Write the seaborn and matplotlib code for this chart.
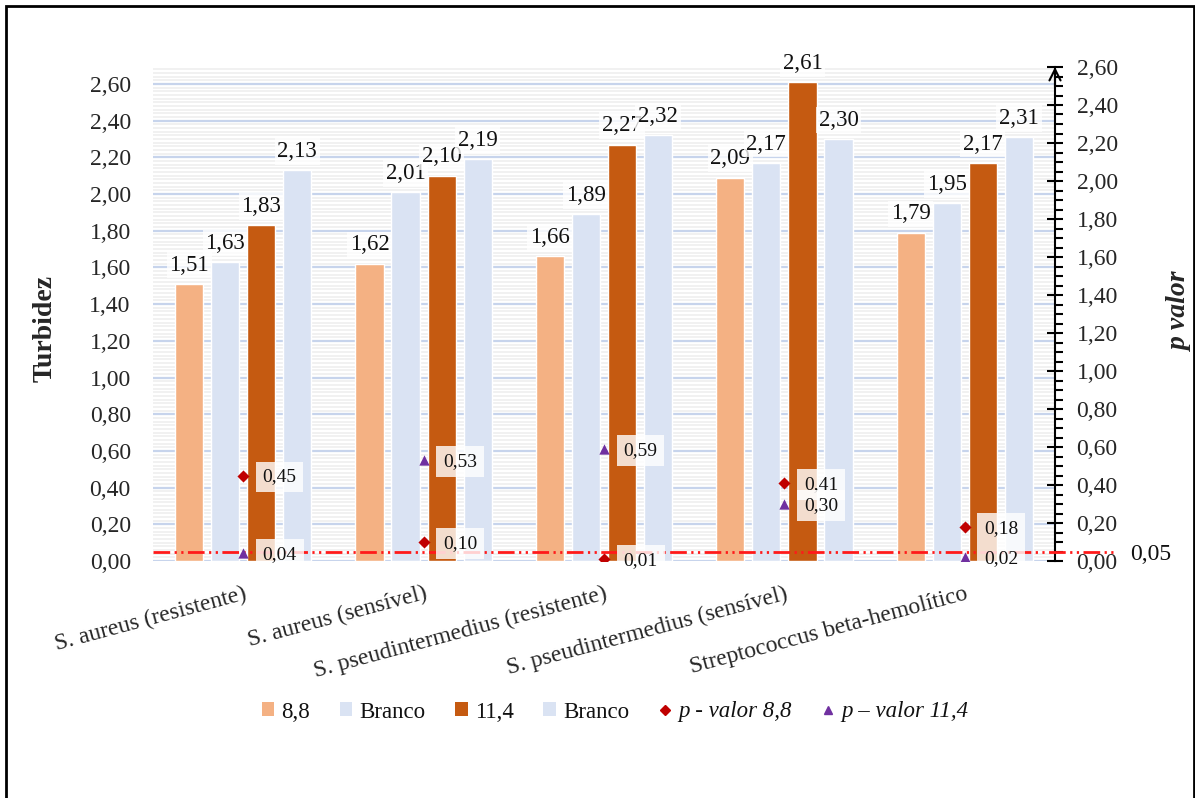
import numpy as np
import pandas as pd
import matplotlib
matplotlib.use("Agg")
import matplotlib.pyplot as plt
from matplotlib.patches import Patch, Rectangle
from matplotlib.lines import Line2D
from matplotlib.ticker import MultipleLocator, FixedLocator
import seaborn as sns

# ---- data ----
grupos = [
    "S. aureus (resistente)",
    "S. aureus (sensível)",
    "S. pseudintermedius (resistente)",
    "S. pseudintermedius (sensível)",
    "Streptococcus beta-hemolítico",
]
turb_88 = [1.51, 1.62, 1.66, 2.09, 1.79]
branco_88 = [1.63, 2.01, 1.89, 2.17, 1.95]
turb_114 = [1.83, 2.10, 2.27, 2.61, 2.17]
branco_114 = [2.13, 2.19, 2.32, 2.30, 2.31]
p_88 = [0.45, 0.10, 0.01, 0.41, 0.18]
p_114 = [0.04, 0.53, 0.59, 0.30, 0.02]
p_limite = 0.05

series_keys = ["8,8", "Branco A", "11,4", "Branco B"]
series_labels = ["8,8", "Branco", "11,4", "Branco"]
series_vals = [turb_88, branco_88, turb_114, branco_114]
series_colors = ["#F4B183", "#DAE3F3", "#C55A11", "#DAE3F3"]
p_labels = ["p - valor 8,8", "p \u2013 valor 11,4"]
yticks = [0.0, 0.2, 0.4, 0.6, 0.8, 1.0, 1.2, 1.4, 1.6, 1.8, 2.0, 2.2, 2.4, 2.6]

df = pd.DataFrame(
    [(g, k, v) for k, vals in zip(series_keys, series_vals) for g, v in zip(grupos, vals)],
    columns=["grupo", "serie", "turbidez"],
)


def virgula(v, casas=2):
    return f"{v:.{casas}f}".replace(".", ",")


# ---- style ----
sns.set_style("white")
plt.rcParams["font.family"] = ["Liberation Serif", "DejaVu Serif"]
plt.rcParams["text.color"] = "#111111"

W, H = 1195, 798
fig = plt.figure(figsize=(W / 100, H / 100), dpi=100)
x0, x1, y_bot, y_top = 153, 1055, 561, 67
ax = fig.add_axes([x0 / W, 1 - y_bot / H, (x1 - x0) / W, (y_bot - y_top) / H])

sns.barplot(
    data=df, x="grupo", y="turbidez", hue="serie", hue_order=series_keys,
    order=grupos, palette=series_colors, saturation=1, width=0.8, gap=0.22,
    legend=False, ax=ax, zorder=2,
)

# left axis: turbidity
ax.set_xlim(-0.5, len(grupos) - 0.5)
ax.set_ylim(0, 2.6 * (y_bot - y_top) / (y_bot - 84))
ax.yaxis.set_major_locator(FixedLocator(yticks))
ax.set_yticklabels([virgula(t) for t in yticks], fontsize=17)
ax.yaxis.set_minor_locator(MultipleLocator(0.02))
ax.tick_params(axis="y", which="both", length=0, pad=16)
ax.tick_params(axis="x", length=0, pad=16)
ax.set_xticks(range(len(grupos)))
ax.set_xticklabels(grupos, rotation=15, ha="right", rotation_mode="anchor", fontsize=17)
ax.set_axisbelow(True)
ax.grid(axis="y", which="minor", color="#F0F0F0", lw=1.3)
ax.grid(axis="y", which="major", color="#C7D4EC", lw=1.6)
ax.grid(axis="x", visible=False)
for s in ax.spines.values():
    s.set_visible(False)
ax.set_xlabel("")
ax.set_ylabel("Turbidez", fontsize=20, fontweight="bold")
ax.yaxis.set_label_coords((58 - x0) / (x1 - x0), (y_bot - 328) / (y_bot - y_top))

# value labels over the bars
box = dict(boxstyle="square,pad=0.12", fc="white", ec="none", alpha=0.78)
for cont, vals in zip(ax.containers, series_vals):
    ax.bar_label(cont, labels=[virgula(v) for v in vals], padding=6,
                 fontsize=16.5, bbox=box, clip_on=False)

# right axis: p-values
ax2 = ax.twinx()
pos = np.arange(len(grupos))
sns.scatterplot(x=pos, y=p_88, marker="D", color="#C00000", s=38,
                linewidth=0, ax=ax2, zorder=5, legend=False)
sns.scatterplot(x=pos, y=p_114, marker="^", color="#7030A0", s=55,
                linewidth=0, ax=ax2, zorder=5, legend=False)
ax2.set_ylim(0, 2.6)
ax2.set_xlim(-0.5, len(grupos) - 0.5)
ax2.yaxis.set_major_locator(FixedLocator(yticks))
ax2.set_yticklabels([virgula(t) for t in yticks], fontsize=17)
ax2.yaxis.set_minor_locator(MultipleLocator(0.05))
ax2.tick_params(axis="y", which="major", direction="inout", length=11, width=1.5, pad=10, color="black")
ax2.tick_params(axis="y", which="minor", direction="out", length=6, width=1.5, color="black")
ax2.grid(False)
for k, s in ax2.spines.items():
    s.set_visible(k == "right")
ax2.spines["right"].set_color("black")
ax2.spines["right"].set_linewidth(1.5)
ax2.set_ylabel("p valor", fontsize=20, fontweight="bold", style="italic", rotation=90)
ax2.yaxis.set_label_coords((1168 - x0) / (x1 - x0), (y_bot - 311) / (y_bot - y_top))
ax2.annotate("", xy=(1, 1.0), xycoords="axes fraction", xytext=(1, 0.96),
             arrowprops=dict(arrowstyle="->", lw=1.5, color="black", mutation_scale=20,
                             shrinkA=0, shrinkB=0))

# significance threshold
ax2.axhline(p_limite, xmin=0, xmax=(1115 - x0) / (x1 - x0), color="#FF1A1A", lw=2,
            ls=(0, (6, 1.6, 0.8, 1.6, 0.8, 1.6)), clip_on=False, zorder=4)
ax2.text(1.083, p_limite - 0.015, virgula(p_limite), transform=ax2.get_yaxis_transform(),
         fontsize=17, va="center", ha="left")

# p-value labels
pbox = dict(boxstyle="square,pad=0.35", fc="white", ec="none", alpha=0.8)
for vals in (p_88, p_114):
    for x, v in zip(pos, vals):
        ax2.annotate(virgula(v), xy=(x, v), xytext=(14, -1), textcoords="offset points",
                     fontsize=14, va="center", ha="left", bbox=pbox, zorder=6)

# legend
handles = [Patch(fc=c, ec="none") for c in series_colors]
handles += [
    Line2D([], [], marker="D", color="#C00000", ls="none", markersize=5),
    Line2D([], [], marker="^", color="#7030A0", ls="none", markersize=6),
]
leg = fig.legend(handles, series_labels + p_labels, loc="center",
                 bbox_to_anchor=(615 / W, 1 - 712 / H), ncol=6, frameon=False,
                 fontsize=16.5, handlelength=0.55, handleheight=0.55, handletextpad=0.3,
                 columnspacing=1.3)
for t in leg.get_texts()[4:]:
    t.set_style("italic")

# outer frame
fig.add_artist(Rectangle((6 / W, -0.02), (1194 - 6) / W, 1 - 6 / H + 0.02,
                         transform=fig.transFigure, fill=False, lw=2, ec="black"))

fig.savefig("out.png", dpi=100)
